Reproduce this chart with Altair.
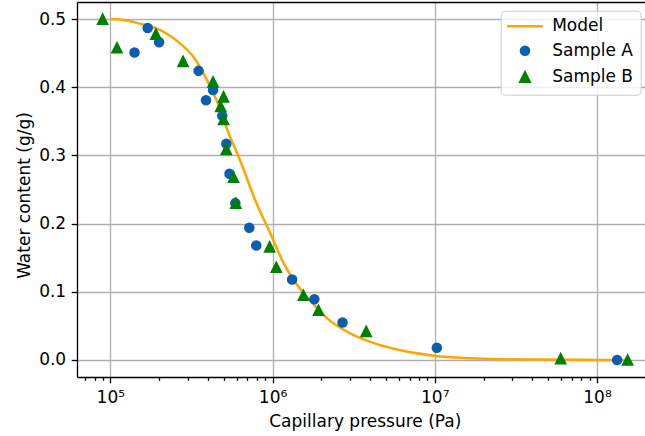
import altair as alt
import pandas as pd

# ---------------- data ----------------
series_names = ["Model", "Sample A", "Sample B"]
series_colors = ["#FFA500", "#0a5fb0", "#008000"]

model_pressure = [1.0e5, 1.26e5, 1.53e5, 1.94e5, 2.70e5, 3.27e5, 3.76e5, 4.24e5, 4.76e5, 5.24e5,
                  6.38e5, 7.83e5, 9.68e5, 1.17e6, 1.42e6, 1.71e6, 2.17e6, 3.01e6, 4.01e6, 5.85e6,
                  9.40e6, 1.82e7, 3.98e7, 1.0e8, 1.5e8]
model_water = [0.500, 0.498, 0.493, 0.486, 0.464, 0.444, 0.420, 0.395, 0.368, 0.339,
               0.290, 0.234, 0.186, 0.142, 0.110, 0.087, 0.061, 0.039, 0.0266, 0.0154,
               0.007, 0.002, 0.0006, 0.0001, 0.0]

a_pressure = [1.41e5, 1.70e5, 2.00e5, 3.50e5, 3.89e5, 4.30e5, 4.90e5, 5.19e5, 5.43e5, 5.90e5,
              7.19e5, 7.94e5, 1.32e6, 1.81e6, 2.70e6, 1.03e7, 1.33e8]
a_water = [0.451, 0.487, 0.466, 0.424, 0.381, 0.396, 0.358, 0.317, 0.273, 0.230,
           0.194, 0.168, 0.118, 0.089, 0.055, 0.018, 0.000]

b_pressure = [8.97e4, 1.10e5, 1.91e5, 2.81e5, 4.30e5, 4.99e5, 4.79e5, 4.99e5, 5.19e5, 5.75e5,
              5.94e5, 9.60e5, 1.055e6, 1.55e6, 1.92e6, 3.78e6, 5.97e7, 1.545e8]
b_water = [0.500, 0.458, 0.478, 0.438, 0.408, 0.386, 0.372, 0.353, 0.309, 0.268,
           0.230, 0.166, 0.136, 0.095, 0.073, 0.042, 0.002, 0.000]

x_major = [1e5, 1e6, 1e7, 1e8]
x_major_labels = ["10\u2075", "10\u2076", "10\u2077", "10\u2078"]
x_minor = [7e4, 8e4, 9e4,
           2e5, 3e5, 4e5, 5e5, 6e5, 7e5, 8e5, 9e5,
           2e6, 3e6, 4e6, 5e6, 6e6, 7e6, 8e6, 9e6,
           2e7, 3e7, 4e7, 5e7, 6e7, 7e7, 8e7, 9e7]
y_ticks = [0.0, 0.1, 0.2, 0.3, 0.4, 0.5]

# ---------------- table ----------------
rows = []
for p, w in zip(model_pressure, model_water):
    rows.append({"pressure": p, "water": w, "series": "Model"})
for p, w in zip(a_pressure, a_water):
    rows.append({"pressure": p, "water": w, "series": "Sample A"})
for p, w in zip(b_pressure, b_water):
    rows.append({"pressure": p, "water": w, "series": "Sample B"})
df = pd.DataFrame(rows)

FONT = "DejaVu Sans"

x_scale = alt.Scale(type="log", domain=[62340, 1.976e8], nice=False)
y_scale = alt.Scale(domain=[-0.025, 0.525], nice=False, zero=False)
color_scale = alt.Scale(domain=series_names, range=series_colors)
shape_scale = alt.Scale(domain=series_names,
                        range=["M-4.4,0H4.4", "circle", "M0,-1.13L-1.13,1.13L1.13,1.13Z"])

label_expr = " : ".join(
    f"datum.value == {v:.0f} ? '{t}'" for v, t in zip(x_major[:-1], x_major_labels[:-1])
) + f" : '{x_major_labels[-1]}'"

main_x_axis = alt.Axis(orient="bottom", values=x_major, labelExpr=label_expr, grid=True,
                       tickSize=5.8, labelPadding=6.7, labelFlush=False, labelOverlap=False,
                       title="Capillary pressure (Pa)", titleX=287.8, titleY=49.2,
                       titleBaseline="alphabetic", titleAlign="center")
minor_x_axis = alt.Axis(orient="bottom", values=x_minor, labels=False, grid=False,
                        domain=False, tickSize=3.3, title=None)
top_x_axis = alt.Axis(orient="top", labels=False, ticks=False, grid=False, domain=True,
                      title=None)

y_enc = alt.Y("water:Q", scale=y_scale,
              axis=alt.Axis(values=y_ticks, format=".1f", grid=True, tickSize=5.8,
                            labelPadding=5.5, title="Water content (g/g)",
                            titleX=-47.5, titleY=193, titleAngle=270, titleAlign="center",
                            titleBaseline="alphabetic"))

legend_def = alt.Legend(
    title=None, orient="none", legendX=423.7, legendY=8.7, padding=7, rowPadding=6.5,
    symbolOffset=8.8, labelOffset=18.7, labelFontSize=17, labelFont=FONT,
    labelColor="black", symbolSize=66, symbolStrokeWidth=2.5, strokeColor="#cccccc",
    fillColor="rgba(255,255,255,0.8)", cornerRadius=4, symbolOpacity=1,
)

line = alt.Chart(df).transform_filter(alt.datum.series == "Model").mark_line(
    strokeWidth=2.5, interpolate="monotone"
).encode(
    x=alt.X("pressure:Q", scale=x_scale, axis=minor_x_axis),
    y=y_enc,
    stroke=alt.Stroke("series:N", scale=color_scale, legend=legend_def),
)

points = alt.Chart(df).transform_filter(alt.datum.series != "Model").mark_point(
    filled=True, size=82, opacity=1, strokeWidth=1.5
).encode(
    x=alt.X("pressure:Q", scale=x_scale, axis=main_x_axis),
    y=y_enc,
    fill=alt.Fill("series:N", scale=color_scale, legend=legend_def),
    stroke=alt.Stroke("series:N", scale=color_scale, legend=legend_def),
    shape=alt.Shape("series:N", scale=shape_scale, legend=legend_def),
)

top = alt.Chart(df).transform_filter(alt.datum.series == "Model").mark_point(opacity=0).encode(
    x=alt.X("pressure:Q", scale=x_scale, axis=top_x_axis),
    y=y_enc,
)

chart = alt.layer(line, points, top).resolve_axis(x="independent").properties(
    width=568, height=375,
    padding={"left": 77, "top": 2, "right": 0, "bottom": 59},
    autosize=alt.AutoSizeParams(type="none"),
    background="white",
).configure_view(stroke=None).configure_axis(
    domainColor="black", domainWidth=1.33, tickColor="black", tickWidth=1.33,
    gridColor="#b0b0b0", gridWidth=1.33,
    labelFont=FONT, labelFontSize=17, labelColor="black",
    titleFont=FONT, titleFontSize=17, titleFontWeight="normal", titleColor="black",
)

chart.save("out.html", embed_options={"renderer": "svg", "actions": False})
